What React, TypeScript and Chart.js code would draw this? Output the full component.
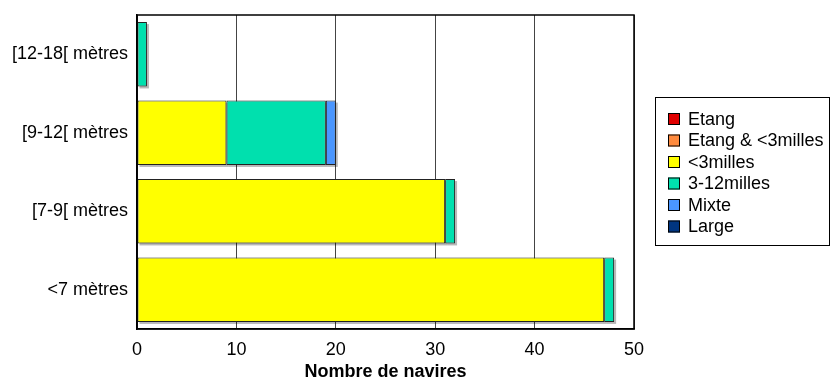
import React, { useEffect, useRef } from "react";
import { Chart, registerables } from "chart.js";

Chart.register(...registerables);

const categories = ["[12-18[ mètres", "[9-12[ mètres", "[7-9[ mètres", "<7 mètres"];
const seriesLabels = ["Etang", "Etang & <3milles", "<3milles", "3-12milles", "Mixte", "Large"];
const etang: (number | null)[] = [null, null, null, null];
const etangMoins3: (number | null)[] = [null, null, null, null];
const moins3: (number | null)[] = [null, 9, 31, 47];
const milles3a12: (number | null)[] = [1, 10, 1, 1];
const mixte: (number | null)[] = [null, 1, null, null];
const large: (number | null)[] = [null, null, null, null];
const seriesColors = ["#E00000", "#FF8A3D", "#FFFF00", "#00E0AE", "#4A96FF", "#003580"];
const xMin = 0;
const xMax = 50;
const xStep = 10;
const xTitle = "Nombre de navires";

const FONT = "'Liberation Sans', Arial, sans-serif";
const FS = 18;

const shadowPlugin = {
  id: "barShadow",
  beforeDatasetsDraw(chart: any) {
    const ctx = chart.ctx;
    ctx.save();
    ctx.fillStyle = "rgba(0,0,0,0.28)";
    chart.data.datasets.forEach((_: any, di: number) => {
      const meta = chart.getDatasetMeta(di);
      meta.data.forEach((el: any, i: number) => {
        const v = chart.data.datasets[di].data[i];
        if (v === null || v === undefined) return;
        const p = el.getProps(["x", "y", "base", "height"], true);
        const l = Math.min(p.x, p.base);
        const r = Math.max(p.x, p.base);
        ctx.fillRect(l + 2, p.y - p.height / 2 + 2, r - l, p.height);
      });
    });
    ctx.restore();
  },
};

const framePlugin = {
  id: "frameLegend",
  afterDraw(chart: any) {
    const ctx = chart.ctx;
    const a = chart.chartArea;
    ctx.save();
    ctx.strokeStyle = "#000";
    ctx.lineWidth = 1.5;
    ctx.strokeRect(a.left, a.top, a.right - a.left, a.bottom - a.top);
    // legend box
    ctx.lineWidth = 1;
    ctx.strokeRect(655.5, 97.5, 174, 148);
    ctx.font = `${FS}px ${FONT}`;
    ctx.textBaseline = "middle";
    ctx.textAlign = "left";
    chart.data.datasets.forEach((ds: any, i: number) => {
      const cy = 119 + i * 21.5;
      ctx.fillStyle = ds.backgroundColor;
      ctx.fillRect(668, cy - 6, 12, 12);
      ctx.strokeStyle = "#000";
      ctx.strokeRect(668.5, cy - 5.5, 11, 11);
      ctx.fillStyle = "#000";
      ctx.fillText(ds.label, 688, cy + 1);
    });
    ctx.restore();
  },
};

export default function App() {
  const ref = useRef<HTMLCanvasElement>(null);
  useEffect(() => {
    if (!ref.current) return;
    const values = [etang, etangMoins3, moins3, milles3a12, mixte, large];
    const chart = new Chart(ref.current, {
      type: "bar",
      data: {
        labels: categories,
        datasets: seriesLabels.map((label, i) => ({
          label,
          data: values[i],
          backgroundColor: seriesColors[i],
          borderColor: "#222",
          borderWidth: 1,
          borderSkipped: false,
          barPercentage: 0.82,
          categoryPercentage: 1,
        })),
      },
      options: {
        indexAxis: "y",
        responsive: false,
        animation: false,
        layout: { padding: { top: 15, right: 197, left: 0, bottom: 0 } },
        plugins: { legend: { display: false }, tooltip: { enabled: false } },
        scales: {
          x: {
            stacked: true,
            min: xMin,
            max: xMax,
            ticks: { stepSize: xStep, color: "#000", font: { family: FONT, size: FS }, padding: 10 },
            grid: { color: "#444", lineWidth: 1, drawTicks: false },
            border: { color: "#000", width: 1.5 },
            title: {
              display: true,
              text: xTitle,
              color: "#000",
              font: { family: FONT, size: FS, weight: "bold" },
              padding: { top: 0, bottom: 0 },
            },
            afterFit(scale: any) {
              scale.height = 54;
              scale.paddingLeft = 0;
              scale.paddingRight = 0;
            },
          },
          y: {
            stacked: true,
            ticks: { color: "#000", font: { family: FONT, size: FS }, padding: 9 },
            grid: { display: false, drawTicks: false },
            border: { color: "#000", width: 1.5 },
            afterFit(scale: any) {
              scale.width = 137;
              scale.paddingTop = 0;
              scale.paddingBottom = 0;
            },
          },
        },
      } as any,
      plugins: [shadowPlugin, framePlugin],
    });
    return () => chart.destroy();
  }, []);
  return (
    <div style={{ position: "absolute", left: 0, top: 0, width: 831, height: 383, background: "#fff" }}>
      <canvas ref={ref} width={831} height={383} style={{ width: 831, height: 383 }} />
    </div>
  );
}
